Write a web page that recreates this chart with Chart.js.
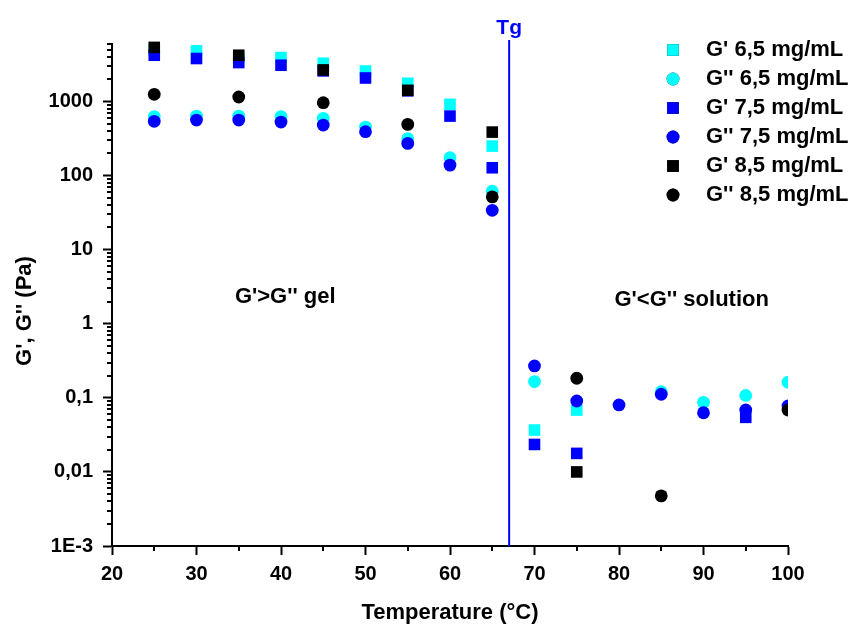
<!DOCTYPE html>
<html>
<head>
<meta charset="utf-8">
<title>G', G'' vs temperature</title>
<script src="https://cdn.jsdelivr.net/npm/chart.js@4.4.1/dist/chart.umd.min.js"></script>
<style>
  html, body { margin: 0; padding: 0; background: #fff; }
  #wrap { width: 853px; height: 626px; }
</style>
</head>
<body>
<div id="wrap"><canvas id="rheoChart" width="853" height="626"></canvas></div>
<script>
// temperature steps (°C)
var temps = [25, 30, 35, 40, 45, 50, 55, 60, 65, 70, 75, 80, 85, 90, 95, 100];

// moduli (Pa), null = no point
var gp65  = [4900, 4840, 3900, 3940, 3300, 2590, 1770, 919, 251, 0.0368, 0.0685, null, null, null, null, null];
var gpp65 = [627, 638, 638, 627, 594, 454, 316, 175, 61.7, 0.166, null, null, 0.121, 0.087, 0.108, 0.163];
var gp75  = [4230, 3820, 3370, 3100, 2600, 2085, 1400, 638, 128, 0.0235, 0.0178, null, null, null, 0.0546, null];
var gpp75 = [542, 564, 564, 530, 483, 393, 273, 139, 34.1, 0.270, 0.0908, 0.0802, 0.112, 0.063, 0.0686, 0.0777];
var gp85  = [5400, null, 4230, null, 2680, null, 1422, null, 388, null, 0.0100, null, null, null, null, null];
var gpp85 = [1256, null, 1154, null, 968, null, 493, null, 51.8, null, 0.184, null, 0.00475, null, null, 0.0686];

var seriesLabels = ["G' 6,5 mg/mL", "G'' 6,5 mg/mL", "G' 7,5 mg/mL", "G'' 7,5 mg/mL", "G' 8,5 mg/mL", "G'' 8,5 mg/mL"];
var seriesValues = [gp65, gpp65, gp75, gpp75, gp85, gpp85];
var seriesColors = ["#00ffff", "#00ffff", "#0000ff", "#0000ff", "#000000", "#000000"];
var seriesShapes = ["rect", "circle", "rect", "circle", "rect", "circle"];

var yTickValues = [0.001, 0.01, 0.1, 1, 10, 100, 1000];
var yTickLabels = ["1E-3", "0,01", "0,1", "1", "10", "100", "1000"];
var xMinorTicks = [25, 35, 45, 55, 65, 75, 85, 95];

var tgValue = 67;
var notes = [
    { text: "G'>G'' gel", x: 40.5, y: 2.3 },
    { text: "G'<G'' solution", x: 88.6, y: 2.1 }
];

var FONT = "'Liberation Sans', Arial, Helvetica, sans-serif";

function toPoints(values) {
    var pts = [];
    values.forEach(function(v, i) {
        if (v !== null) pts.push({ x: temps[i], y: v });
    });
    return pts;
}

var datasets = seriesValues.map(function(vals, i) {
    return {
        label: seriesLabels[i],
        data: toPoints(vals),
        pointStyle: seriesShapes[i],
        pointRadius: seriesShapes[i] === "rect" ? 8.2 : 6.4,
        pointHoverRadius: seriesShapes[i] === "rect" ? 8.2 : 6.4,
        backgroundColor: seriesColors[i],
        borderColor: seriesColors[i],
        borderWidth: 0,
        showLine: false,
        order: seriesValues.length - i,   // later series sit on top
        clip: { left: false, top: false, right: 0, bottom: false }
    };
});

// extras: minor ticks, Tg line, notes, legend, y title
var extrasPlugin = {
    id: "extras",
    afterDraw: function(chart) {
        var ctx = chart.ctx;
        var xs = chart.scales.x, ys = chart.scales.y;
        var area = chart.chartArea;
        ctx.save();

        // minor ticks
        ctx.strokeStyle = "#000";
        ctx.lineWidth = 2;
        ctx.beginPath();
        xMinorTicks.forEach(function(t) {
            var px = Math.round(xs.getPixelForValue(t));
            ctx.moveTo(px, area.bottom);
            ctx.lineTo(px, area.bottom + 5);
        });
        for (var k = -3; k <= 3; k++) {
            for (var m = 2; m <= 9; m++) {
                var v = m * Math.pow(10, k);
                if (v > ys.max) continue;
                var py = Math.round(ys.getPixelForValue(v));
                ctx.moveTo(area.left, py);
                ctx.lineTo(area.left - 5, py);
            }
        }
        ctx.stroke();

        // Tg line
        var tx = xs.getPixelForValue(tgValue);
        ctx.strokeStyle = "#0000ff";
        ctx.lineWidth = 2;
        ctx.beginPath();
        ctx.moveTo(tx, area.top - 4);
        ctx.lineTo(tx, area.bottom);
        ctx.stroke();
        ctx.fillStyle = "#0000ff";
        ctx.font = "bold 21px " + FONT;
        ctx.textAlign = "center";
        ctx.textBaseline = "middle";
        ctx.fillText("Tg", tx, 28);

        // annotations
        ctx.font = "bold 22px " + FONT;
        ctx.fillStyle = "#000";
        notes.forEach(function(n) {
            ctx.fillText(n.text, xs.getPixelForValue(n.x), ys.getPixelForValue(n.y));
        });

        // legend
        ctx.textAlign = "left";
        chart.data.datasets.forEach(function(ds, i) {
            var ly = 50 + i * 29;
            Chart.helpers.drawPoint(ctx, {
                pointStyle: ds.pointStyle,
                radius: ds.pointRadius,
                rotation: 0,
                borderWidth: 0
            }, 673, ly);
            ctx.fillStyle = ds.backgroundColor;
            ctx.fill();
            ctx.fillStyle = "#000";
            ctx.fillText(ds.label, 706, ly);
        });

        // y axis title
        ctx.translate(25, 311);
        ctx.rotate(-Math.PI / 2);
        ctx.textAlign = "center";
        ctx.fillText("G', G'' (Pa)", 0, 0);
        ctx.restore();
    }
};

var chart = new Chart(document.getElementById("rheoChart").getContext("2d"), {
    type: "scatter",
    data: { datasets: datasets },
    plugins: [extrasPlugin],
    options: {
        responsive: false,
        animation: false,
        devicePixelRatio: 1,
        layout: { padding: { top: 44, right: 65, left: 0, bottom: 0 } },
        plugins: { legend: { display: false }, tooltip: { enabled: false } },
        scales: {
            x: {
                type: "linear",
                min: 20,
                max: 100,
                afterFit: function(s) { s.height = 80; },
                ticks: { stepSize: 10, color: "#000", padding: 7, maxRotation: 0, font: { family: FONT, size: 20, weight: "bold" } },
                grid: { drawOnChartArea: false, drawTicks: true, tickLength: 9, tickWidth: 2, tickColor: "#000" },
                border: { display: true, color: "#000", width: 2 },
                title: { display: true, text: "Temperature (°C)", color: "#000", padding: { top: 0, bottom: 0 }, font: { family: FONT, size: 22, weight: "bold" } }
            },
            y: {
                type: "logarithmic",
                min: 0.001,
                max: 6000,
                afterFit: function(s) { s.width = 112; },
                afterBuildTicks: function(s) {
                    s.ticks = yTickValues.map(function(v) { return { value: v }; });
                },
                ticks: {
                    color: "#000",
                    padding: 10,
                    autoSkip: false,
                    font: { family: FONT, size: 20, weight: "bold" },
                    callback: function(value, index) { return yTickLabels[index]; }
                },
                grid: { drawOnChartArea: false, drawTicks: true, tickLength: 9, tickWidth: 2, tickColor: "#000" },
                border: { display: true, color: "#000", width: 2 }
            }
        }
    }
});
</script>
</body>
</html>
